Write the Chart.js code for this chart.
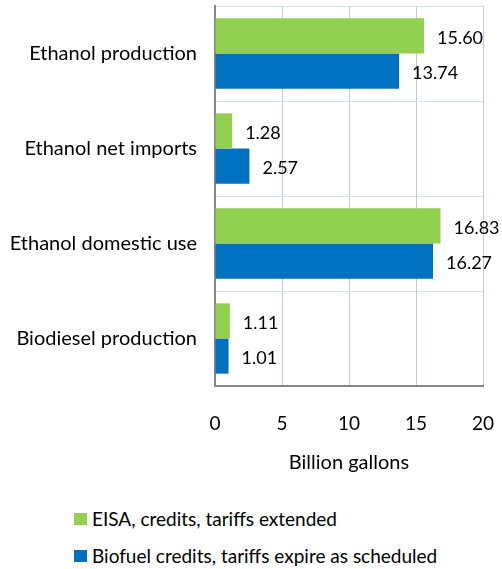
<!DOCTYPE html>
<html><head><meta charset="utf-8">
<script src="https://cdn.jsdelivr.net/npm/chart.js@4"></script>
<style>
html,body{margin:0;padding:0;background:#fff;}
#wrap{position:relative;width:502px;height:569px;overflow:hidden;}
#box{position:absolute;left:0;top:0;width:502px;height:490px;}
.leg{position:absolute;left:74px;font-family:Lato,sans-serif;font-size:19px;color:#000;display:flex;align-items:center;white-space:nowrap;line-height:20px;}
.sw{display:inline-block;width:13px;height:12px;margin-right:5px;}
</style></head><body>
<div id="wrap">
<div id="box"><canvas id="c"></canvas></div>
<div class="leg" style="top:509px"><span class="sw" style="background:#92D050"></span><span id="l0"></span></div>
<div class="leg" style="top:546px"><span class="sw" style="background:#0070C0"></span><span id="l1"></span></div>
</div>
<script>
const categories = ["Ethanol production", "Ethanol net imports", "Ethanol domestic use", "Biodiesel production"];
const seriesNames = ["EISA, credits, tariffs extended", "Biofuel credits, tariffs expire as scheduled"];
const eisaValues = [15.60, 1.28, 16.83, 1.11];
const expireValues = [13.74, 2.57, 16.27, 1.01];
const xTicks = [0, 5, 10, 15, 20];
const xTitle = "Billion gallons";

document.getElementById('l0').textContent = seriesNames[0];
document.getElementById('l1').textContent = seriesNames[1];

const FONT = 'Lato, sans-serif';
const valueLabels = {
  id: 'valueLabels',
  afterDatasetsDraw(chart) {
    const ctx = chart.ctx;
    ctx.save();
    ctx.font = '18px ' + FONT;
    ctx.fillStyle = '#000';
    ctx.textAlign = 'left';
    ctx.textBaseline = 'middle';
    chart.data.datasets.forEach((ds, i) => {
      chart.getDatasetMeta(i).data.forEach((el, j) => {
        ctx.fillText(ds.data[j].toFixed(2), el.x + 13, el.y + 2);
      });
    });
    ctx.restore();
  }
};

new Chart(document.getElementById('c'), {
  type: 'bar',
  data: {
    labels: categories,
    datasets: [
      { label: seriesNames[0], data: eisaValues, backgroundColor: '#92D050', borderWidth: 0 },
      { label: seriesNames[1], data: expireValues, backgroundColor: '#0070C0', borderWidth: 0 }
    ]
  },
  options: {
    indexAxis: 'y',
    responsive: true,
    maintainAspectRatio: false,
    animation: false,
    layout: { padding: { left: 0, right: 19, top: 6, bottom: 0 } },
    categoryPercentage: 0.74,
    barPercentage: 1.0,
    plugins: { legend: { display: false }, tooltip: { enabled: false } },
    scales: {
      x: {
        min: 0, max: 20,
        afterBuildTicks(scale) { scale.ticks = xTicks.map(v => ({ value: v })); },
        afterFit(scale) { scale.height = 104; scale.paddingLeft = 0; scale.paddingRight = 0; },
        grid: { color: '#BACDE6', drawTicks: false, lineWidth: 1 },
        border: { color: '#868686', width: 2 },
        ticks: { color: '#000', font: { family: FONT, size: 19 }, padding: 26 },
        title: { display: true, text: xTitle, color: '#000', font: { family: FONT, size: 20 }, padding: { top: 0, bottom: 15 } }
      },
      y: {
        afterFit(scale) { scale.width = 215; scale.paddingTop = 0; scale.paddingBottom = 0; },
        grid: { color: '#D5E0EF', drawTicks: false, lineWidth: 1 },
        border: { color: '#868686', width: 2 },
        ticks: { color: '#000', font: { family: FONT, size: 20 }, padding: 18 }
      }
    }
  },
  plugins: [valueLabels]
});
</script>
</body></html>
